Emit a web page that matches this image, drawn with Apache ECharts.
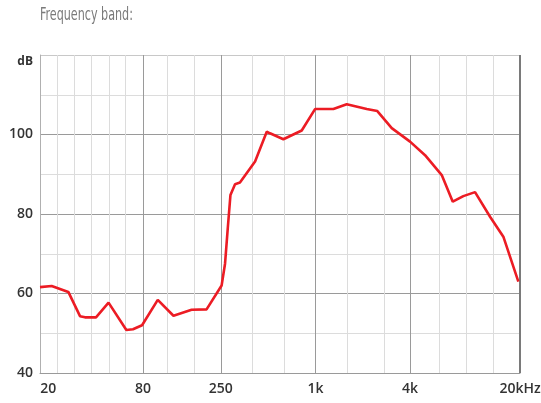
<!DOCTYPE html>
<html>
<head>
<meta charset="utf-8">
<script src="https://cdn.jsdelivr.net/npm/echarts@6/dist/echarts.min.js"></script>
<style>
html,body{margin:0;padding:0;background:#fff;}
#c{width:541px;height:403px;}
</style>
</head>
<body>
<div id="c"></div>
<script>
// Frequency (Hz) of each curve point
var freqs = [17.7, 21, 26.8, 31.8, 34.2, 40.2, 48.3, 62.7, 69.1, 78.9, 99.3, 125, 163, 203, 253, 266, 277, 288, 308, 331, 413, 490, 514, 625, 818, 994, 1300, 1581, 2119, 2475, 3057, 3997, 4979, 6358, 7470, 8723, 10353, 12900, 15673, 19523];
// Level (dB) of each curve point
var levels = [61.6, 61.9, 60.4, 54.3, 54.0, 54.0, 57.7, 50.8, 51.0, 52.0, 58.4, 54.4, 55.9, 56.0, 62.0, 67.5, 76.5, 84.8, 87.5, 87.9, 93.2, 100.7, 100.3, 98.8, 101.0, 106.4, 106.4, 107.6, 106.4, 105.9, 101.6, 98.2, 94.8, 89.8, 83.1, 84.5, 85.5, 79.3, 74.3, 63.0];

// x axis labelled frequencies and their label text
var majorFreqs = [80, 250, 1000, 4000];
var labelFreqs = [20, 80, 250, 1000, 4000, 20000];
var labelTexts = ['20', '80', '250', '1k', '4k', '20kHz'];
// light vertical grid lines (Hz)
var minorFreqs = [22.7, 29.3, 37.7, 48.6, 62.1, 114.9, 169.6, 395, 631, 1588, 2731, 6112, 9036, 13537];

var xMin = 17.7, xMax = 20000;
var yMin = 40, yMax = 120, yStep = 10;

var labelStyle = {show: true, position: 'start', distance: 9, color: '#333', fontFamily: 'Open Sans', fontSize: 14, fontWeight: 600};

var markData = [];
minorFreqs.forEach(function (f) {
  markData.push({xAxis: f, lineStyle: {color: '#dcdcdc', width: 1, type: 'solid'}, label: {show: false}});
});
labelFreqs.forEach(function (f, i) {
  var isMajor = majorFreqs.indexOf(f) >= 0;
  var isMax = f === xMax;
  var ls;
  if (isMajor) ls = {color: '#9a9a9a', width: 1, type: 'solid'};
  else if (isMax) ls = {color: '#7a7a7a', width: 2, type: 'solid'};
  else ls = {color: 'rgba(0,0,0,0)', width: 0, type: 'solid'};
  var lab = Object.assign({}, labelStyle, {formatter: labelTexts[i], opacity: 1});
  markData.push({xAxis: f, lineStyle: ls, label: lab});
});

var chart = echarts.init(document.getElementById('c'), null, {renderer: 'canvas'});
chart.setOption({
  animation: false,
  backgroundColor: '#fff',
  graphic: [{
    type: 'text',
    left: 40, top: 7,
    scaleX: 0.73,
    originX: 0,
    style: {
      text: 'Frequency band:',
      fontFamily: "'DejaVu Sans Condensed', 'DejaVu Sans', sans-serif",
      fontSize: 17, fontWeight: 'normal', fill: '#7a7a7a'
    }
  }],
  grid: {left: 40, right: 21, top: 55, bottom: 30, containLabel: false},
  xAxis: {
    type: 'log', logBase: 10, min: xMin, max: xMax,
    axisLine: {show: true, lineStyle: {color: '#9a9a9a', width: 1}},
    axisTick: {show: false},
    axisLabel: {show: false},
    splitLine: {show: false}
  },
  yAxis: {
    type: 'value', min: yMin, max: yMax, interval: yStep,
    axisLine: {show: true, lineStyle: {color: '#b0b0b0', width: 1}},
    axisTick: {show: false},
    axisLabel: {
      margin: 7, color: '#333', fontFamily: 'Open Sans', fontSize: 14, fontWeight: 600,
      formatter: function (v) {
        if (v === yMax) return '{d|dB}';
        return v % 20 === 0 ? String(v) : '';
      },
      rich: {d: {fontFamily: 'Open Sans', fontSize: 12, fontWeight: 700, color: '#333', padding: [14, 0, 0, 0]}}
    },
    splitLine: {show: true, lineStyle: {width: 1, color: ['#9a9a9a', '#dcdcdc', '#9a9a9a', '#dcdcdc', '#9a9a9a', '#dcdcdc', '#9a9a9a', '#dcdcdc', '#c8c8c8']}}
  },
  series: [{
    type: 'line',
    data: freqs.map(function (f, i) { return [f, levels[i]]; }),
    symbol: 'none',
    smooth: false,
    z: 5,
    lineStyle: {color: '#ec1c24', width: 2.6},
    markLine: {
      silent: true,
      symbol: ['none', 'none'],
      z: 1,
      data: markData
    }
  }]
});
</script>
</body>
</html>
